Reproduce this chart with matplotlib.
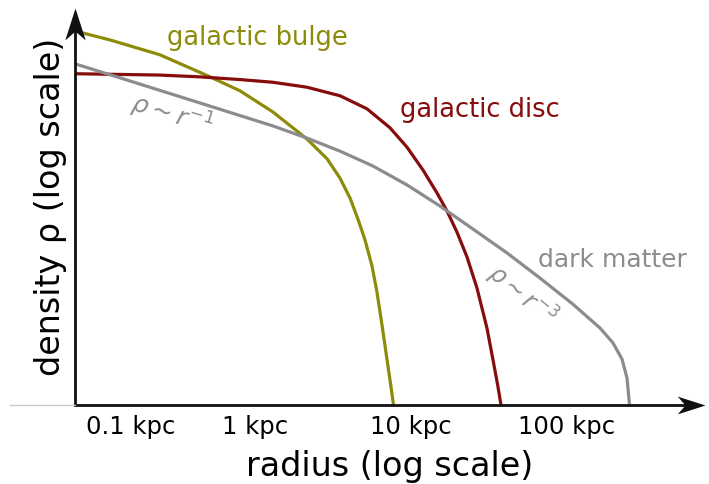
import matplotlib
matplotlib.use("Agg")
import matplotlib.pyplot as plt
from matplotlib.path import Path
import numpy as np

# schematic log-log density profiles
# x: log10(r / kpc), y: log10(rho) in arbitrary units
bulge_logr = [-1.154, -0.929, -0.609, -0.288, -0.096, 0.115, 0.333, 0.462, 0.545, 0.609,
              0.660, 0.705, 0.750, 0.782, 0.814, 0.846, 0.872, 0.888]
bulge_logrho = [8.31, 8.11, 7.78, 7.29, 6.98, 6.51, 5.91, 5.47, 5.04, 4.60,
                4.13, 3.67, 3.09, 2.51, 1.78, 1.02, 0.40, 0.0]

disc_logr = [-1.154, -0.609, -0.353, -0.096, 0.115, 0.333, 0.545, 0.718, 0.865, 0.974,
             1.077, 1.167, 1.231, 1.295, 1.359, 1.423, 1.487, 1.526, 1.558, 1.577]
disc_logrho = [7.36, 7.33, 7.29, 7.23, 7.17, 7.06, 6.87, 6.58, 6.16, 5.73,
               5.22, 4.71, 4.31, 3.84, 3.29, 2.60, 1.71, 1.00, 0.40, 0.0]

dm_logr = [-1.154, -0.821, -0.353, -0.096, 0.115, 0.333, 0.545, 0.756, 0.974, 1.186,
           1.397, 1.615, 1.827, 2.038, 2.212, 2.295, 2.353, 2.385, 2.401]
dm_logrho = [7.58, 7.22, 6.71, 6.43, 6.20, 5.93, 5.64, 5.31, 4.89, 4.42,
             3.91, 3.38, 2.82, 2.24, 1.71, 1.38, 1.02, 0.60, 0.0]

tick_pos = [-0.80, 0.0, 1.0, 2.0]
tick_labels = ["0.1 kpc", "1 kpc", "10 kpc", "100 kpc"]

c_bulge = "#8c8c0a"
c_disc = "#870c0c"
c_dm = "#8c8c8c"

fig = plt.figure(figsize=(7.09, 4.84), dpi=100)
ax = fig.add_axes([75 / 709, 79 / 484, 630 / 709, 397 / 484])

for xs, ys, c in [(bulge_logr, bulge_logrho, c_bulge),
                  (disc_logr, disc_logrho, c_disc),
                  (dm_logr, dm_logrho, c_dm)]:
    ax.plot(xs, ys, color=c, lw=2.3, solid_capstyle="butt", solid_joinstyle="round")

ax.set_xlim(-1.154, 2.885)
ax.set_ylim(0, 8.82)

for s in ax.spines.values():
    s.set_visible(False)

# axes drawn as lines with stealth arrow heads
head_right = Path([(0, 0), (-1, 0.32), (-0.72, 0), (-1, -0.32), (0, 0)],
                  [Path.MOVETO, Path.LINETO, Path.LINETO, Path.LINETO, Path.CLOSEPOLY])
head_up = Path([(0, 0), (0.32, -1), (0, -0.72), (-0.32, -1), (0, 0)],
               [Path.MOVETO, Path.LINETO, Path.LINETO, Path.LINETO, Path.CLOSEPOLY])
ax.plot([0, 0.98], [0, 0], color="#111111", lw=2, transform=ax.transAxes, clip_on=False)
ax.plot([0, 0], [0, 0.97], color="#111111", lw=2, transform=ax.transAxes, clip_on=False)
ax.plot([1], [0], marker=head_right, ms=40, color="#111111", mew=0,
        transform=ax.transAxes, clip_on=False)
ax.plot([0], [1], marker=head_up, ms=46, color="#111111", mew=0,
        transform=ax.transAxes, clip_on=False)
fig.add_artist(plt.Line2D([10 / 709, 75 / 709], [79 / 484, 79 / 484], color="#cccccc", lw=1))

ax.set_yticks([])
ax.set_xticks(tick_pos, tick_labels)
ax.tick_params(axis="x", length=0, pad=7, labelsize=17.5)

ax.set_xlabel("radius (log scale)", fontsize=24, labelpad=8)
ax.set_ylabel("density ρ (log scale)", fontsize=24, labelpad=6)

ax.text(-0.564, 8.0, "galactic bulge", color=c_bulge, fontsize=18.5)
ax.text(0.929, 6.4, "galactic disc", color=c_disc, fontsize=18.5)
ax.text(1.814, 3.07, "dark matter", color=c_dm, fontsize=18)

ax.text(-0.532, 6.44, r"$\rho \sim r^{-1}$", color=c_dm, fontsize=18,
        rotation=-17, ha="center", va="center", rotation_mode="anchor")
ax.text(1.712, 2.44, r"$\rho \sim r^{-3}$", color=c_dm, fontsize=17,
        rotation=-40, ha="center", va="center", rotation_mode="anchor")

fig.savefig("out.png", dpi=100)
